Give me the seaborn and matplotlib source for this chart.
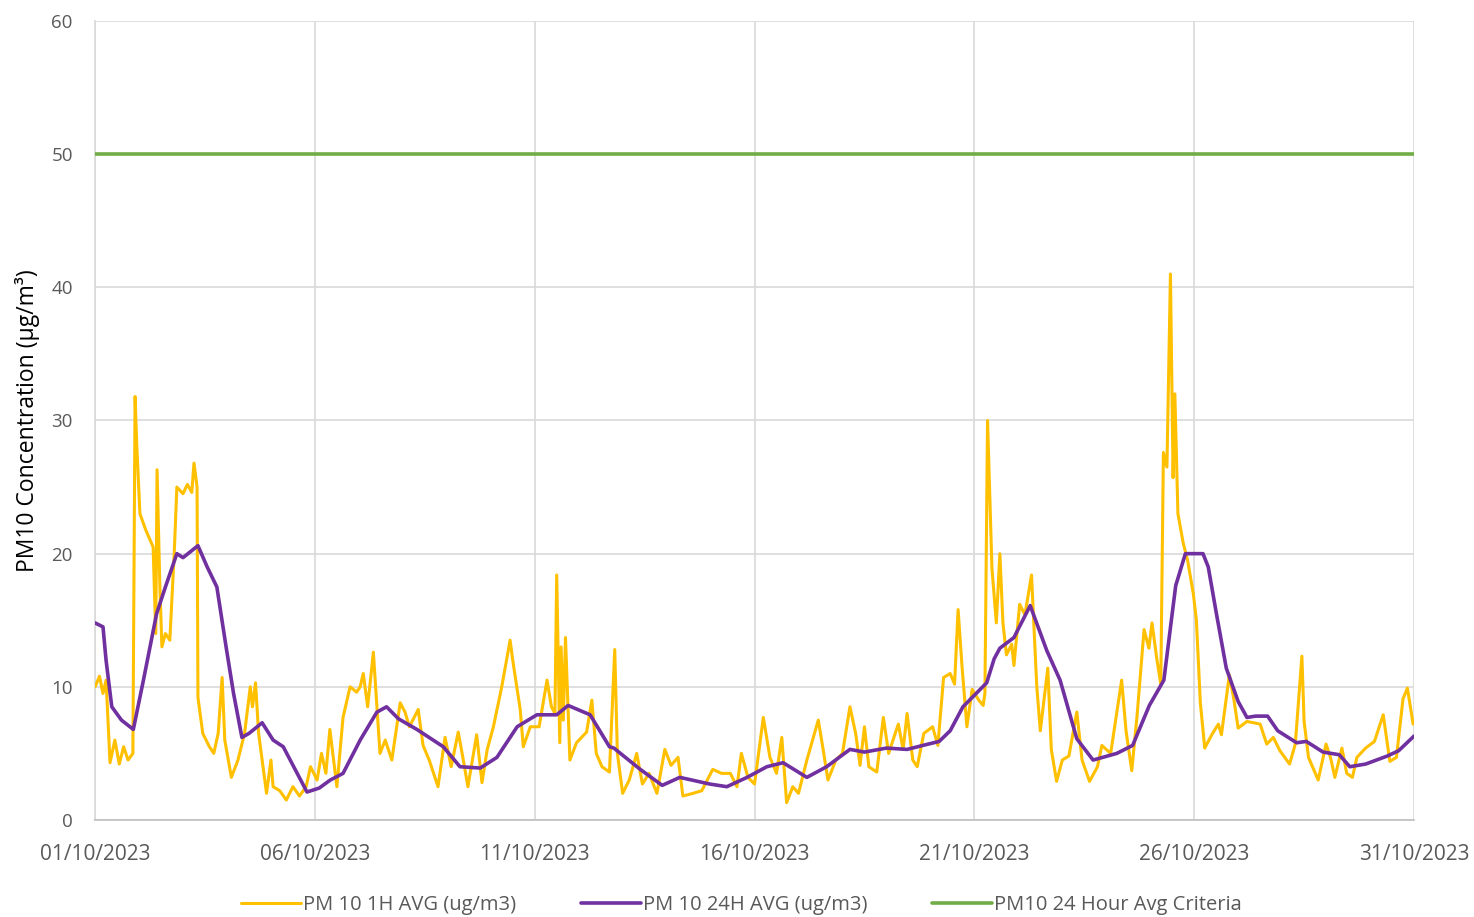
import numpy as np
import pandas as pd
import matplotlib
matplotlib.use("Agg")
import matplotlib.pyplot as plt
import matplotlib.dates as mdates
import seaborn as sns

# ---------------- data ----------------
start_date = "2023-10-01"
end_date = "2023-10-31"

# PM10 1-hour average: time offset (days from 01/10/2023) and value (ug/m3)
hourly_day = [
    0.0, 0.1, 0.18, 0.25, 0.34, 0.45, 0.55, 0.65, 0.75, 0.86, 0.91, 0.95, 1.02, 1.15, 1.32,
    1.38, 1.41, 1.47, 1.52, 1.6, 1.7, 1.8, 1.86, 2.0, 2.1, 2.2, 2.25, 2.32, 2.34, 2.45,
    2.6, 2.7, 2.8, 2.89, 2.95, 3.1, 3.25, 3.4, 3.53, 3.58, 3.65, 3.72, 3.9, 4.0, 4.05,
    4.2, 4.35, 4.5, 4.65, 4.8, 4.9, 5.05, 5.15, 5.25, 5.34, 5.5, 5.64, 5.8, 5.95, 6.03,
    6.1, 6.2, 6.33, 6.48, 6.6, 6.75, 6.94, 7.05, 7.15, 7.35, 7.46, 7.6, 7.8, 7.96, 8.1,
    8.26, 8.36, 8.48, 8.68, 8.8, 8.92, 9.06, 9.25, 9.44, 9.5, 9.67, 9.74, 9.9, 10.1, 10.28,
    10.38, 10.46, 10.5, 10.57, 10.6, 10.65, 10.7, 10.8, 10.95, 11.18, 11.3, 11.4, 11.53, 11.7, 11.82,
    11.88, 12.0, 12.15, 12.32, 12.45, 12.6, 12.78, 12.96, 13.1, 13.26, 13.37, 13.6, 13.8, 14.05, 14.25,
    14.45, 14.6, 14.7, 14.85, 15.0, 15.2, 15.35, 15.5, 15.62, 15.73, 15.87, 16.0, 16.19, 16.45, 16.55,
    16.67, 16.85, 17.0, 17.17, 17.3, 17.4, 17.5, 17.6, 17.78, 17.93, 18.05, 18.27, 18.38, 18.47, 18.6,
    18.7, 18.85, 19.05, 19.17, 19.3, 19.45, 19.55, 19.63, 19.72, 19.83, 19.95, 20.1, 20.2, 20.24, 20.3,
    20.4, 20.5, 20.58, 20.65, 20.73, 20.85, 20.9, 21.03, 21.15, 21.3, 21.42, 21.5, 21.67, 21.75, 21.87,
    22.0, 22.15, 22.33, 22.45, 22.62, 22.8, 22.9, 23.1, 23.35, 23.45, 23.58, 23.7, 23.86, 23.97, 24.04,
    24.15, 24.24, 24.3, 24.38, 24.46, 24.52, 24.56, 24.63, 24.75, 24.85, 24.98, 25.05, 25.14, 25.24, 25.4,
    25.55, 25.62, 25.8, 25.9, 26.0, 26.2, 26.5, 26.65, 26.8, 26.95, 27.17, 27.3, 27.45, 27.5, 27.6,
    27.82, 28.0, 28.1, 28.2, 28.36, 28.47, 28.6, 28.7, 28.9, 29.1, 29.3, 29.45, 29.6, 29.75, 29.85,
    29.98,
]
hourly_pm10 = [
    10, 10.8, 9.5, 10.5, 4.3, 6, 4.2, 5.5, 4.5, 5, 31.8, 28, 23, 21.8, 20.5,
    14, 26.3, 18, 13, 14, 13.5, 20, 25, 24.5, 25.2, 24.6, 26.8, 25, 9.2, 6.5,
    5.5, 5, 6.5, 10.7, 6, 3.2, 4.5, 6.5, 10, 8.5, 10.3, 6.5, 2, 4.5, 2.5,
    2.2, 1.5, 2.5, 1.8, 2.5, 4, 3, 5, 3.5, 6.8, 2.5, 7.7, 10, 9.6, 10,
    11, 8.5, 12.6, 5, 6, 4.5, 8.8, 8.1, 7, 8.3, 5.6, 4.5, 2.5, 6.2, 4,
    6.6, 4.8, 2.5, 6.4, 2.8, 5.3, 7, 10, 13.5, 12, 8.3, 5.5, 7, 7, 10.5,
    8.5, 8, 18.4, 5.8, 13, 7.5, 13.7, 4.5, 5.8, 6.6, 9, 5, 4, 3.6, 12.8,
    5, 2, 3, 5, 2.7, 3.5, 2, 5.3, 4.1, 4.7, 1.8, 2, 2.2, 3.8, 3.5,
    3.5, 2.5, 5, 3.2, 2.7, 7.7, 4.7, 3.5, 6.2, 1.3, 2.5, 2, 4.5, 7.5, 5.5,
    3, 4.5, 5, 8.5, 6.5, 4.1, 7, 4, 3.6, 7.7, 5, 7.2, 5.3, 8, 4.5,
    4, 6.5, 7, 5.6, 10.7, 11, 10.2, 15.8, 11.5, 7, 9.8, 9, 8.6, 9.5, 30,
    18.9, 14.8, 20, 14.8, 12.4, 13.2, 11.6, 16.2, 15.4, 18.4, 10, 6.7, 11.4, 5.3, 2.9,
    4.5, 4.8, 8.1, 4.5, 2.9, 4, 5.6, 5, 10.5, 6.7, 3.7, 7.8, 14.3, 12.9, 14.8,
    12.1, 10.2, 27.6, 26.5, 41, 25.7, 32, 23, 20.8, 19.5, 17, 15, 8.8, 5.4, 6.4,
    7.2, 6.4, 10.9, 9.1, 6.9, 7.4, 7.2, 5.7, 6.2, 5.2, 4.2, 5.7, 12.3, 7.4, 4.7,
    3, 5.7, 4.7, 3.2, 5.4, 3.5, 3.2, 4.7, 5.4, 5.9, 7.9, 4.4, 4.7, 9.1, 9.9,
    7.2,
]

# PM10 24-hour rolling average
daily_day = [
    0, 0.18, 0.25, 0.38, 0.6, 0.87, 1.1, 1.4, 1.6, 1.86, 2.0, 2.34, 2.55, 2.77, 2.98,
    3.15, 3.34, 3.5, 3.8, 4.05, 4.28, 4.55, 4.82, 5.1, 5.35, 5.64, 6.03, 6.41, 6.63, 6.9,
    7.32, 7.92, 8.3, 8.76, 9.14, 9.6, 10.05, 10.5, 10.76, 11.26, 11.7, 11.8, 12.4, 12.9, 13.3,
    13.98, 14.37, 14.83, 15.28, 15.65, 16.19, 16.64, 17.17, 17.5, 18.0, 18.47, 18.83, 19.2, 19.45, 19.74,
    20.13, 20.28, 20.45, 20.58, 20.9, 21.27, 21.65, 21.95, 22.33, 22.7, 23.24, 23.6, 23.98, 24.31, 24.58,
    24.8, 25.2, 25.32, 25.5, 25.73, 26.0, 26.2, 26.4, 26.67, 26.9, 27.33, 27.55, 27.93, 28.3, 28.54,
    28.9, 29.39, 29.65, 30.0,
]
daily_pm10 = [
    14.8, 14.5, 12, 8.5, 7.5, 6.8, 10.5, 15.5, 17.5, 20, 19.7, 20.6, 19, 17.5, 13,
    9.5, 6.2, 6.5, 7.3, 6, 5.5, 3.8, 2.1, 2.4, 3, 3.5, 6, 8.1, 8.5, 7.6,
    6.8, 5.5, 4, 3.9, 4.7, 7, 7.9, 7.9, 8.6, 7.9, 5.5, 5.4, 3.8, 2.6, 3.2,
    2.7, 2.5, 3.2, 4, 4.3, 3.2, 4, 5.3, 5.1, 5.4, 5.3, 5.6, 5.9, 6.7, 8.5,
    9.8, 10.3, 12.1, 12.9, 13.7, 16.1, 12.7, 10.5, 6.1, 4.5, 5, 5.6, 8.6, 10.5, 17.6,
    20, 20, 19, 15.6, 11.4, 8.9, 7.7, 7.8, 7.8, 6.7, 5.8, 5.9, 5.1, 4.9, 4.0,
    4.2, 4.8, 5.2, 6.3,
]

criteria_dates = [start_date, end_date]
criteria_pm10 = [50, 50]

series_names = ["PM 10 1H AVG (ug/m3)", "PM 10 24H AVG (ug/m3)", "PM10 24 Hour Avg Criteria"]
series_colors = ["#FFC000", "#7030A0", "#70AD47"]
y_ticks = [0, 10, 20, 30, 40, 50, 60]
y_label = "PM10 Concentration (μg/m³)"

# ---------------- build frames ----------------
t0 = pd.Timestamp(start_date)
df_1h = pd.DataFrame({"time": t0 + pd.to_timedelta(hourly_day, unit="D"), "value": hourly_pm10})
df_24h = pd.DataFrame({"time": t0 + pd.to_timedelta(daily_day, unit="D"), "value": daily_pm10})
df_crit = pd.DataFrame({"time": pd.to_datetime(criteria_dates), "value": criteria_pm10})

# ---------------- plot ----------------
sns.set_theme(style="white")
plt.rcParams["font.family"] = ["Open Sans", "DejaVu Sans"]

fig = plt.figure(figsize=(14.74, 9.17), dpi=100)
ax = fig.add_axes([0.0645, 0.1058, 0.8948, 0.8713])

sns.lineplot(data=df_1h, x="time", y="value", ax=ax, color=series_colors[0],
             linewidth=2.2, label=series_names[0], zorder=3)
sns.lineplot(data=df_24h, x="time", y="value", ax=ax, color=series_colors[1],
             linewidth=2.6, label=series_names[1], zorder=4)
sns.lineplot(data=df_crit, x="time", y="value", ax=ax, color=series_colors[2],
             linewidth=2.6, label=series_names[2], zorder=4)

ax.set_xlim(pd.Timestamp(start_date), pd.Timestamp(end_date))
ax.set_ylim(0, 60)
ax.set_yticks(y_ticks)
tick_dates = pd.date_range(start_date, end_date, freq="5D")
ax.set_xticks(tick_dates)
ax.xaxis.set_major_formatter(mdates.DateFormatter("%d/%m/%Y"))

ax.grid(True, color="#d9d9d9", linewidth=1.2, zorder=0)
ax.set_axisbelow(True)
for s in ["top", "right"]:
    ax.spines[s].set_visible(False)
ax.spines["left"].set_color("#d9d9d9")
ax.spines["bottom"].set_color("#bfbfbf")
ax.spines["left"].set_linewidth(1.2)
ax.spines["bottom"].set_linewidth(1.2)

ax.tick_params(axis="x", labelsize=15, colors="#595959", pad=17, length=0)
ax.tick_params(axis="y", labelsize=13.5, colors="#595959", pad=16, length=0)
ax.set_xlabel("")
ax.set_ylabel(y_label, fontsize=16.5, color="black", labelpad=8)

ax.get_legend().remove()
handles, labels = ax.get_legend_handles_labels()
fig.legend(handles, labels, loc="lower center", ncol=3, frameon=False,
           bbox_to_anchor=(0.503, -0.018), fontsize=14.5, handlelength=3.0,
           columnspacing=3.2, handletextpad=0.1, labelcolor="#595959")

fig.savefig("out.png", dpi=100)
